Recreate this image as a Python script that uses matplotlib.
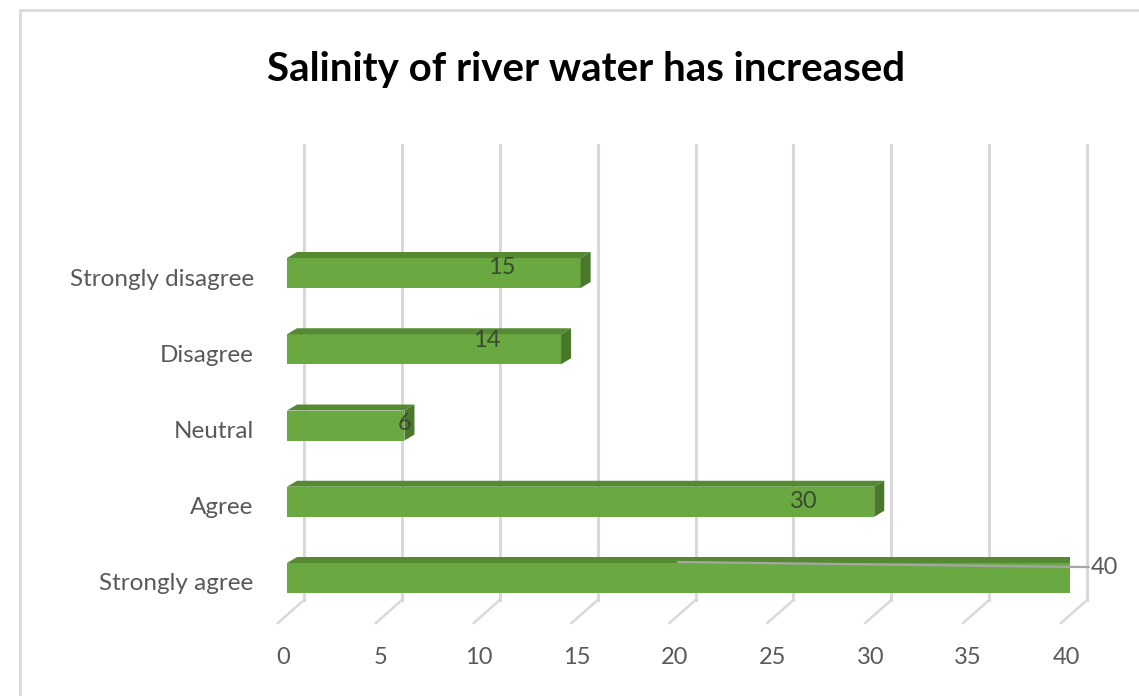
import matplotlib
matplotlib.use("Agg")
import matplotlib.pyplot as plt
import matplotlib.transforms as mtransforms
from matplotlib.patches import Polygon, Rectangle

# survey responses
categories = ["Strongly agree", "Agree", "Neutral", "Disagree", "Strongly disagree"]
counts = [40, 30, 6, 14, 15]
x_ticks = [0, 5, 10, 15, 20, 25, 30, 35, 40]

# where each value label sits along its bar (fraction of the bar length)
label_frac = [None, 0.88, 1.0, 0.73, 0.73]
label_lift = [0, 0, 0.02, 0.12, 0.07]

FRONT = "#6aa842"
TOP = "#558a33"
SIDE = "#4a782b"
GRID = "#d9d9d9"
TXT = "#595959"

plt.rcParams["font.family"] = ["Lato", "DejaVu Sans"]

W, H = 1139, 696
fig = plt.figure(figsize=(W / 100, H / 100), dpi=100)
fig.patch.set_facecolor("white")

# chart frame
fig.patches.append(Rectangle((20 / W, -0.2), 1.2, 1.2 - 10 / H, transform=fig.transFigure,
                             fill=False, edgecolor="#d9d9d9", lw=2.0))

ax = fig.add_axes([287 / W, (H - 600) / H, 783 / W, 455 / H])
ax.set_xlim(0, 40)
px_x = 783 / 40.0           # pixels per unit along x
px_y = 76.25                # pixels per category step
ybot = -22 / px_y
ytop = (578 - 145) / px_y
ax.set_ylim(ybot, ytop)
for s in ax.spines.values():
    s.set_visible(False)

bar_h = 30 / px_y
ddx = 10 / px_x
ddy = 6 / px_y
back = 17 / px_x

# back wall gridlines and floor diagonals
for t in x_ticks:
    ax.plot([t + back, t + back], [ybot, ytop], color=GRID, lw=2.2, zorder=0, clip_on=False)
    ax.plot([t + back, t - 9 / px_x], [ybot, ybot - 23 / px_y], color=GRID, lw=1.8,
            zorder=0, clip_on=False)

ypos = list(range(len(categories)))
ax.barh(ypos, counts, height=bar_h, color=FRONT, zorder=3)
for yc, v in zip(ypos, counts):
    top = yc + bar_h / 2
    bot = yc - bar_h / 2
    ax.add_patch(Polygon([(0, top), (v, top), (v + ddx, top + ddy), (ddx, top + ddy)],
                         closed=True, facecolor=TOP, edgecolor="none", zorder=3))
    ax.add_patch(Polygon([(v, bot), (v, top), (v + ddx, top + ddy), (v + ddx, bot + ddy)],
                         closed=True, facecolor=SIDE, edgecolor="none", zorder=3))

# value labels
for yc, v, f, lift in zip(ypos, counts, label_frac, label_lift):
    if f is None:
        continue
    ax.text(v * f, yc + lift, str(v), ha="center", va="center", fontsize=17,
            color="#3a4a30", zorder=5)

# the largest bar carries its label outside with a leader line
big = counts[0]
ax.plot([big / 2, big + 0.5, big + 0.95], [0 + 16 / px_y, 0 + 11 / px_y, 0 + 11 / px_y],
        color="#a6a6a6", lw=1.6, zorder=4, clip_on=False)
ax.text(big + 1.05, 0 + 11 / px_y, str(big), ha="left", va="center", fontsize=17,
        color=TXT, zorder=5, clip_on=False)

ax.set_yticks(ypos)
ax.set_yticklabels(categories, fontsize=17.5, color=TXT)
ax.set_xticks(x_ticks)
ax.set_xticklabels([str(t) for t in x_ticks], fontsize=17, color=TXT)
ax.tick_params(axis="y", length=0, pad=24)
ax.tick_params(axis="x", length=0, pad=34)
shift = mtransforms.ScaledTranslation(-4 / 100, 0, fig.dpi_scale_trans)
for lbl in ax.get_xticklabels():
    lbl.set_transform(lbl.get_transform() + shift)
for lbl in ax.get_yticklabels():
    lbl.set_transform(lbl.get_transform() + mtransforms.ScaledTranslation(0, -4 / 100, fig.dpi_scale_trans))

fig.text(586 / W, 1 - 69 / H, "Salinity of river water has increased", ha="center",
         va="center", fontsize=29, fontweight="bold", color="black")

fig.savefig("out.png", dpi=100, facecolor="white")
